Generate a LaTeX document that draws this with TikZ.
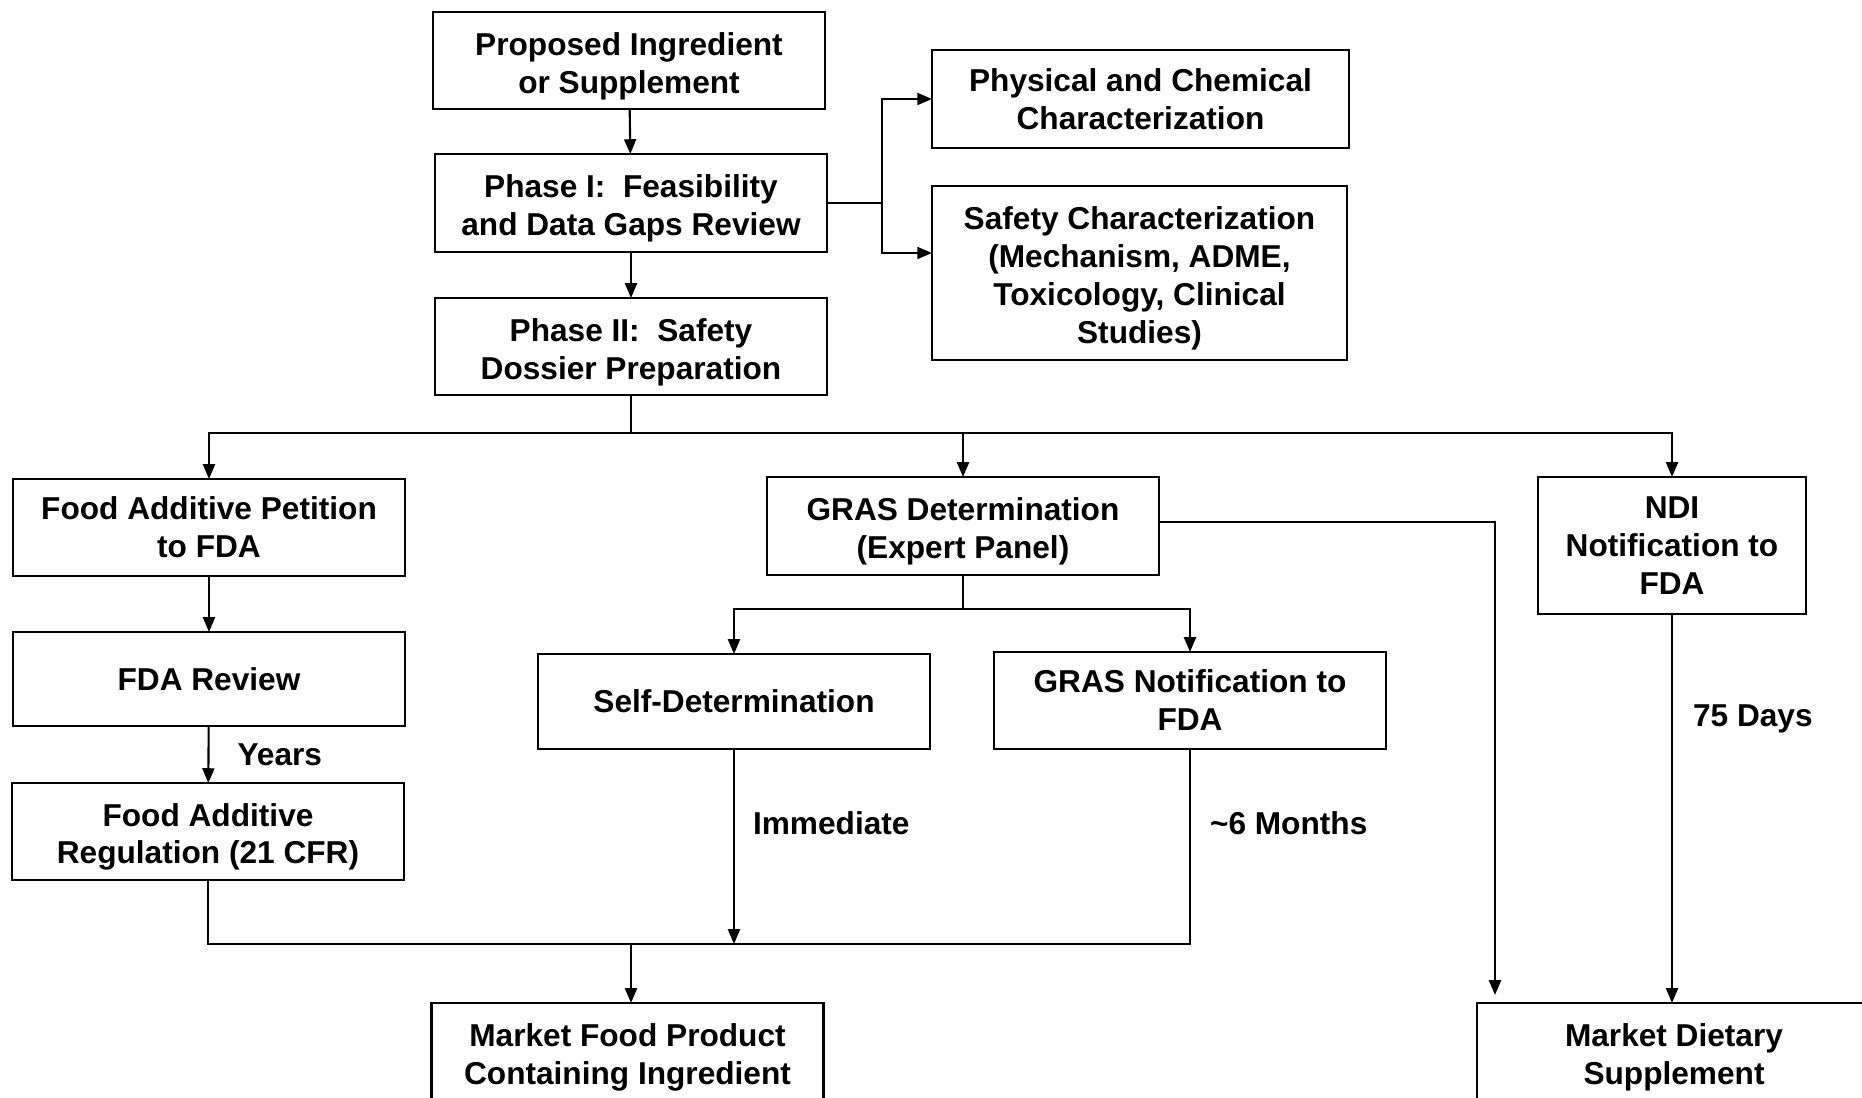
\documentclass[tikz,border=0pt]{standalone}
\usepackage{fontspec}
\setmainfont{Liberation Sans}
\usetikzlibrary{positioning}
\usetikzlibrary{calc}
\usetikzlibrary{arrows.meta}
\newcommand{\boxstrut}{\rule{0pt}{9.6pt}}

\begin{document}
\begin{tikzpicture}[line width=0.6pt, >={Triangle[length=4.2pt,width=3.4pt]}, box node/.style={shape=rectangle,draw=black,minimum width=3.92cm,minimum height=0.97cm,inner sep=1pt,outer sep=0pt,align=center,font=\fontsize{9}{10.8}\selectfont\bfseries}, time label/.style={font=\fontsize{9}{10.8}\selectfont\bfseries,inner sep=0pt}, ]
		\useasboundingbox (0,0) rectangle (18.62,-10.98);
		%main column
		\node[box node] (prop) at (6.29,-0.605){\boxstrut Proposed Ingredient\\or Supplement};
		\node[box node,minimum height=0.98cm] (ph1) at (6.31,-2.03){\boxstrut Phase I:\ \ Feasibility\\and Data Gaps Review};
		\node[box node] (ph2) at (6.31,-3.465){\boxstrut Phase II:\ \ Safety\\Dossier Preparation};
		\node[box node,minimum width=4.17cm,minimum height=0.98cm] (phys) at (11.405,-0.99){Physical and Chemical\\Characterization};
		\node[box node,minimum width=4.15cm,minimum height=1.74cm] (safe) at (11.395,-2.73){\boxstrut Safety Characterization\\(Mechanism, ADME,\\Toxicology, Clinical\\Studies)};
		%three routes
		\node[box node] (fap) at (2.09,-5.275){Food Additive Petition\\to FDA};
		\node[box node,minimum height=0.98cm] (gras) at (9.63,-5.26){\boxstrut GRAS Determination\\(Expert Panel)};
		\node[box node,minimum width=2.68cm,minimum height=1.37cm] (ndi) at (16.72,-5.455){NDI\\Notification to\\FDA};
		\node[box node,minimum height=0.94cm] (fdarev) at (2.09,-6.79){FDA Review};
		\node[box node] (far) at (2.08,-8.315){\boxstrut Food Additive\\Regulation (21 CFR)};
		\node[box node,minimum height=0.95cm] (self) at (7.34,-7.015){Self-Determination};
		\node[box node] (grasn) at (11.90,-7.005){GRAS Notification to\\FDA};
		%market boxes
		\node[box node] (mfood) at (6.275,-10.515){\boxstrut Market Food Product\\Containing Ingredient};
		\node[box node,minimum width=3.94cm] (mdiet) at (16.74,-10.515){\boxstrut Market Dietary\\Supplement};
		
		\coordinate (br) at (8.82,-2.03);
		\coordinate (split) at (6.31,-4.33);
		\coordinate (gsplit) at (9.63,-6.09);
		\coordinate (merge) at (6.31,-9.44);
		
		\draw[->] (prop) -- (ph1);
		\draw[->] (ph1) -- (ph2);
		\draw (ph1.east) -- (br);
		\draw[->] (br) |- (phys.west);
		\draw[->] (br) |- ($(safe.west)+(0,0.2)$);
		
		\draw (ph2.south) -- (split);
		\draw[->] (split) -| (fap.north);
		\draw[->] (split) -| (gras.north);
		\draw[->] (split) -| (ndi.north);
		
		\draw[->] (fap) -- (fdarev);
		\draw[->] (fdarev) -- node[time label,right=0.28cm] (years) {Years} (far);
		
		\draw (gras.south) -- (gsplit);
		\draw[->] (gsplit) -| (self.north);
		\draw[->] (gsplit) -| (grasn.north);
		\draw[->] ($(gras.east)+(0,0.04)$) -| ($(mdiet.north west)+(0.18,0.08)$);
		\draw[->] (ndi.south) -- node[time label,pos=0.27,right=0.2cm] (days) {75 Days} (ndi.south |- mdiet.north);
		
		%merge to market
		\draw (far.south) |- (merge);
		\draw (grasn.south) |- node[time label,pos=0.19,right=0.19cm] (months) {\textasciitilde6 Months} (merge);
		\draw[->] (self.south) -- node[time label,pos=0.38,right=0.18cm] (immed) {Immediate} (self.south |- merge);
		\draw[->] (merge) -- (merge |- mfood.north);
		
		\end{tikzpicture}
\end{document}
